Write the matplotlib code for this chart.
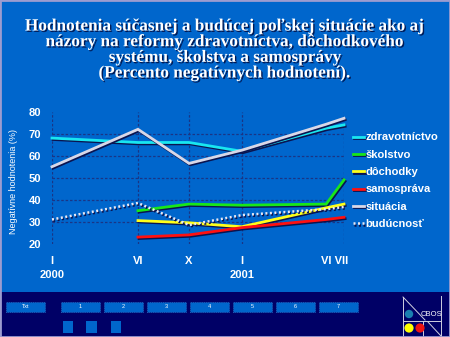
import matplotlib
matplotlib.use("Agg")
import matplotlib.pyplot as plt
import matplotlib.patheffects as pe
from matplotlib.patches import Rectangle, Ellipse
from matplotlib.lines import Line2D

# ---- data ----
survey_time = [0.0, 5.3, 8.45, 11.7, 16.9, 18.0]   # months since I 2000 (survey dates)
tick_labels = ["I", "VI", "X", "I", "VI", "VII"]
year_labels = ["2000", "2001"]

zdravotnictvo = [68, 66, 66, 62, 72.5, 74]
skolstvo      = [None, 35, 38, 37.5, 38, 49]
dochodky      = [None, 30.5, 29.5, 27.7, 36.3, 38]
samosprava    = [None, 23, 24, 27.3, 31, 32]
situacia      = [55, 72, 56.5, 62.5, 74.3, 77]
buducnost     = [31, 38.5, 28.5, 33, 35.7, 36.7]

series_names = ["zdravotníctvo", "školstvo", "dôchodky", "samospráva", "situácia", "budúcnosť"]
series_vals = [zdravotnictvo, skolstvo, dochodky, samosprava, situacia, buducnost]
series_cols = ["#19E6F0", "#19E619", "#FFFF19", "#FF1010", "#D8D8E8", "#E8E8F4"]
series_ls = ["-", "-", "-", "-", "-", (0, (0.8, 1.0))]

title = ("Hodnotenia súčasnej a budúcej poľskej situácie ako aj\n"
         "názory na reformy zdravotníctva, dôchodkového\n"
         "systému, školstva a samosprávy\n"
         "(Percento negatívnych hodnotení).")

BG = "#0066CC"
NAVY = "#000066"
W, H = 450, 337

fig = plt.figure(figsize=(4.5, 3.37), dpi=100)
fig.patch.set_facecolor(BG)

def fx(px):
    return px / W

def fy(py):
    return 1 - py / H

# title
fig.text(0.5, fy(50), title, ha="center", va="center", color="white",
         fontsize=12.4, fontweight="bold", family="Liberation Serif",
         linespacing=0.97,
         path_effects=[pe.withSimplePatchShadow(offset=(1, -1), shadow_rgbFace="#001a55", alpha=1.0)])

# axes
ax = fig.add_axes([fx(52), fy(243.7), fx(344) - fx(52), (243.7 - 111.7) / H])
ax.set_facecolor("none")
ax.set_xlim(survey_time[0], survey_time[-1])
ax.set_ylim(20, 80)
for s in ax.spines.values():
    s.set_visible(False)

gridc = "#1a3585"
for yv in [30, 40, 50, 60, 70]:
    ax.axhline(yv, color=gridc, lw=0.9, ls=(0, (2, 1.5)), zorder=1)
for xv in survey_time:
    if xv == survey_time[4]:
        continue
    ax.axvline(xv, color=gridc, lw=0.9, ls=(0, (2, 1.5)), zorder=1)

shadow = [pe.SimpleLineShadow(offset=(0.8, -1.0), shadow_color="#0a1450", alpha=1.0), pe.Normal()]
handles = []
for name, vals, col, ls in zip(series_names, series_vals, series_cols, series_ls):
    xs = [t for t, v in zip(survey_time, vals) if v is not None]
    ys = [v for v in vals if v is not None]
    lw = 1.8 if ls != "-" else 2.0
    ax.plot(xs, ys, color=col, lw=lw, ls=ls, clip_on=False, zorder=3,
            path_effects=shadow, solid_joinstyle="miter")
    handles.append(Line2D([0], [0], color=col, lw=lw, ls=ls, path_effects=shadow))

ax.set_yticks([20, 30, 40, 50, 60, 70, 80])
ax.tick_params(axis="y", length=0, pad=8, labelsize=8, labelcolor="white")
for t in ax.get_yticklabels():
    t.set_fontweight("bold")
    t.set_family("Liberation Sans")

xt = [survey_time[0], survey_time[1], survey_time[2], survey_time[3], (survey_time[4] + survey_time[5]) / 2]
ax.set_xticks(xt)
ax.set_xticklabels(tick_labels[:4] + [" ".join(tick_labels[4:])])
ax.tick_params(axis="x", length=0, pad=9, labelsize=8, labelcolor="white")
for t in ax.get_xticklabels():
    t.set_fontweight("bold")
    t.set_family("Liberation Sans")

for xv, yl in zip([survey_time[0], survey_time[3]], year_labels):
    ax.text(xv, -0.235, yl, transform=ax.get_xaxis_transform(), ha="center", va="center",
            color="white", fontsize=8, fontweight="bold", family="Liberation Sans")

ax.set_ylabel("Negatívne hodnotenia (%)", color="white", fontsize=6.5, family="Liberation Sans")
ax.yaxis.set_label_coords((18 - 52) / (344 - 52), (243.7 - 181) / 132)

leg = fig.legend(handles, series_names, loc="upper left", bbox_to_anchor=(fx(353), fy(132.5)),
                 frameon=False, handlelength=1.0, handletextpad=0.15,
                 labelspacing=0.66, borderaxespad=0, borderpad=0,
                 prop={"family": "Liberation Sans", "size": 8, "weight": "bold"})
for t in leg.get_texts():
    t.set_color("white")

# ---- bottom navigation bar ----
fig.patches.append(Rectangle((0, 0), 1, fy(292), transform=fig.transFigure, facecolor=NAVY,
                             edgecolor="none", zorder=0))
buttons = [("Txt", 6, 45), ("1", 61, 100), ("2", 104, 143), ("3", 147, 186), ("4", 190, 229),
           ("5", 233, 272), ("6", 276, 315), ("7", 319, 358)]
for lab, x0, x1 in buttons:
    fig.patches.append(Rectangle((fx(x0), fy(311.7)), fx(x1) - fx(x0), (311.7 - 302.3) / H,
                                 transform=fig.transFigure, facecolor=BG, edgecolor="#3377cc",
                                 lw=0.5, ls=":", zorder=1))
    fig.text((fx(x0) + fx(x1)) / 2, fy(307), lab, ha="center", va="center", color="white",
             fontsize=4, family="Liberation Sans")
for x0, x1 in [(63, 73), (86, 97), (111, 121)]:
    fig.patches.append(Rectangle((fx(x0), fy(333)), fx(x1) - fx(x0), 12 / H,
                                 transform=fig.transFigure, facecolor=BG, edgecolor="none", zorder=1))

# CBOS logo
lc = "#d0d0e0"
for (xa, ya), (xb, yb) in [((403, 297), (403, 337)), ((403, 297), (425, 320)),
                           ((403, 321), (441, 321)), ((441, 296), (441, 337)),
                           ((423, 321), (423, 337)), ((428, 322), (441, 336))]:
    fig.lines.append(Line2D([fx(xa), fx(xb)], [fy(ya), fy(yb)], transform=fig.transFigure,
                            color=lc, lw=0.7))
for cx, cy, r, c in [(409, 314, 4.2, "#1a7fb0"), (409, 328, 4.6, "#ffff00"), (420, 328, 4.6, "#ee1111")]:
    fig.patches.append(Ellipse((fx(cx), fy(cy)), 2 * r / W, 2 * r / H, transform=fig.transFigure,
                               facecolor=c, edgecolor="none", zorder=2))
fig.text(fx(431), fy(314), "CBOS", ha="center", va="center", color="white", fontsize=5.5,
         family="Liberation Sans")

# outer border
fig.patches.append(Rectangle((0, 0), 1, 1, transform=fig.transFigure, facecolor="none",
                             edgecolor="#9c9cd0", lw=2, zorder=5))

fig.savefig("out.png", dpi=100, facecolor=fig.get_facecolor())
